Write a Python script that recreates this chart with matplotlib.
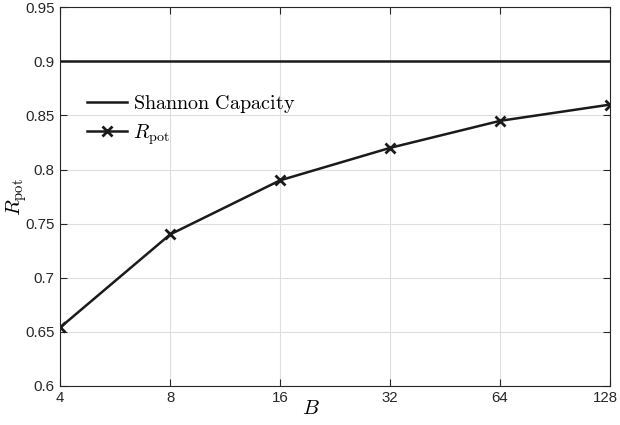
import numpy as np
import matplotlib
matplotlib.use("Agg")
import matplotlib.pyplot as plt
from matplotlib.transforms import ScaledTranslation

# data
B = [4, 8, 16, 32, 64, 128]
r_pot = [0.654, 0.74, 0.79, 0.82, 0.845, 0.86]
shannon = 0.9

plt.rcParams['font.family'] = 'Liberation Sans'
plt.rcParams['mathtext.fontset'] = 'cm'

fig = plt.figure(figsize=(6.2, 4.25), dpi=100)
ax = fig.add_axes([0.097, 0.092, 0.887, 0.891])

ax.plot([B[0], B[-1]], [shannon, shannon], color='#1a1a1a', lw=1.8,
        label=r'$\mathrm{Shannon\ Capacity}$')
ax.plot(B, r_pot, color='#1a1a1a', lw=1.8, marker='x', ms=7, mew=2,
        label=r'$R_{\mathrm{pot}}$')

ax.set_xscale('log', base=2)
ax.set_xlim(4, 128)
ax.set_ylim(0.6, 0.95)
ax.set_xticks(B)
ax.set_xticklabels([str(b) for b in B])
ax.minorticks_off()
ax.set_yticks([0.6, 0.65, 0.7, 0.75, 0.8, 0.85, 0.9, 0.95])
ax.set_yticklabels(['0.6', '0.65', '0.7', '0.75', '0.8', '0.85', '0.9', '0.95'])

ax.grid(True, color='#dedede', lw=0.8)
ax.set_axisbelow(True)
ax.tick_params(direction='in', top=True, right=True, labelsize=10.8,
               length=5, width=0.8, colors='#262626', pad=4)
for s in ax.spines.values():
    s.set_color('#262626')
    s.set_linewidth(0.8)

# last x label nudged left so it stays inside the figure, as in the original
last = ax.get_xticklabels()[-1]
last.set_transform(last.get_transform() + ScaledTranslation(-0.045, 0, fig.dpi_scale_trans))

ax.set_xlabel(r'$B$', fontsize=15)
ax.xaxis.set_label_coords(0.456, -0.035)
ax.set_ylabel(r'$R_{\mathrm{pot}}$', fontsize=15)
ax.yaxis.set_label_coords(-0.056, 0.5)

ax.legend(loc='upper left', bbox_to_anchor=(0.034, 0.795), frameon=False,
          fontsize=14.5, handlelength=2.0, handletextpad=0.3, labelspacing=0.35,
          borderaxespad=0.0)

fig.savefig('out.png', dpi=100)
